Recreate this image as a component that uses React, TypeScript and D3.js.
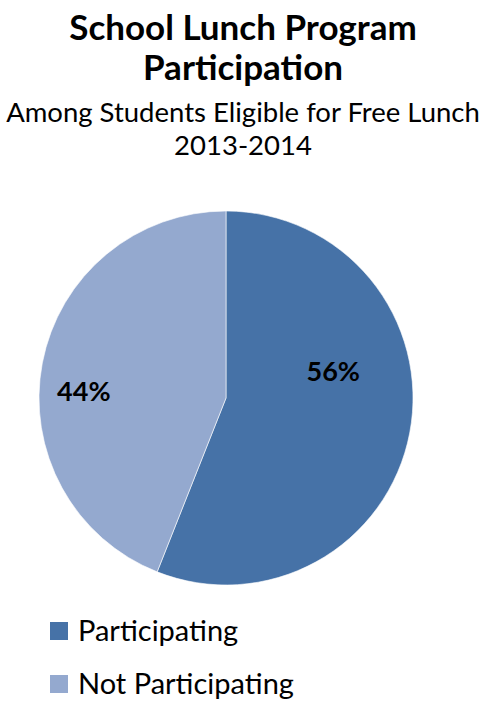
import React, { useEffect, useRef } from "react";
import * as d3 from "d3";

const categories = ["Participating", "Not Participating"];
const shares = [56, 44];
const colors = ["#4672A7", "#94A9CF"];
const titleLines = ["School Lunch Program", "Participation"];
const subtitleLines = ["Among Students Eligible for Free Lunch", "2013-2014"];

const width = 486;
const height = 702;
const font = "Lato, 'Open Sans', sans-serif";

const App: React.FC = () => {
  const svgRef = useRef<SVGSVGElement | null>(null);

  useEffect(() => {
    const svg = d3.select(svgRef.current);
    svg.selectAll("*").remove();

    const cx = 226;
    const cy = 398;
    const radius = 187;

    // titles
    svg
      .selectAll(".title")
      .data(titleLines)
      .enter()
      .append("text")
      .attr("class", "title")
      .attr("x", width / 2)
      .attr("y", (_, i) => 40 + i * 40)
      .attr("text-anchor", "middle")
      .attr("font-family", font)
      .attr("font-weight", "bold")
      .attr("font-size", 35)
      .text((d) => d);

    svg
      .selectAll(".subtitle")
      .data(subtitleLines)
      .enter()
      .append("text")
      .attr("class", "subtitle")
      .attr("x", width / 2)
      .attr("y", (_, i) => 122 + i * 33)
      .attr("text-anchor", "middle")
      .attr("font-family", font)
      .attr("font-size", 27.5)
      .text((d) => d);

    const pie = d3
      .pie<number>()
      .sort(null)
      .value((d) => d);
    const arcs = pie(shares);
    const arc = d3.arc<d3.PieArcDatum<number>>().innerRadius(0).outerRadius(radius);

    const g = svg.append("g").attr("transform", `translate(${cx},${cy})`);

    g.selectAll("path")
      .data(arcs)
      .enter()
      .append("path")
      .attr("d", arc)
      .attr("fill", (_, i) => colors[i])
      .attr("stroke", "#ffffff")
      .attr("stroke-width", 0.6);

    // Excel-like label placement: nudged from the slice centroid
    const labelArc = d3.arc<d3.PieArcDatum<number>>().innerRadius(radius * 0.6).outerRadius(radius * 0.6);
    const nudges = [
      [-3, -47],
      [-32, 15],
    ];
    g.selectAll(".label")
      .data(arcs)
      .enter()
      .append("text")
      .attr("class", "label")
      .attr("transform", (d, i) => {
        const [x, y] = labelArc.centroid(d);
        return `translate(${x + nudges[i][0]},${y + nudges[i][1]})`;
      })
      .attr("text-anchor", "middle")
      .attr("dy", "0.35em")
      .attr("font-family", font)
      .attr("font-weight", "bold")
      .attr("font-size", 27)
      .text((d) => `${d.data}%`);

    // legend
    const legend = svg
      .selectAll(".legend")
      .data(categories)
      .enter()
      .append("g")
      .attr("class", "legend")
      .attr("transform", (_, i) => `translate(50,${622 + i * 53})`);

    legend
      .append("rect")
      .attr("width", 18)
      .attr("height", 18)
      .attr("fill", (_, i) => colors[i]);

    legend
      .append("text")
      .attr("x", 28)
      .attr("y", 19)
      .attr("font-family", font)
      .attr("font-size", 29)
      .text((d) => d);
  }, []);

  return (
    <div style={{ position: "absolute", left: 0, top: 0 }}>
      <svg ref={svgRef} width={width} height={height} style={{ display: "block", background: "#fff" }}></svg>
    </div>
  );
};

export default App;
